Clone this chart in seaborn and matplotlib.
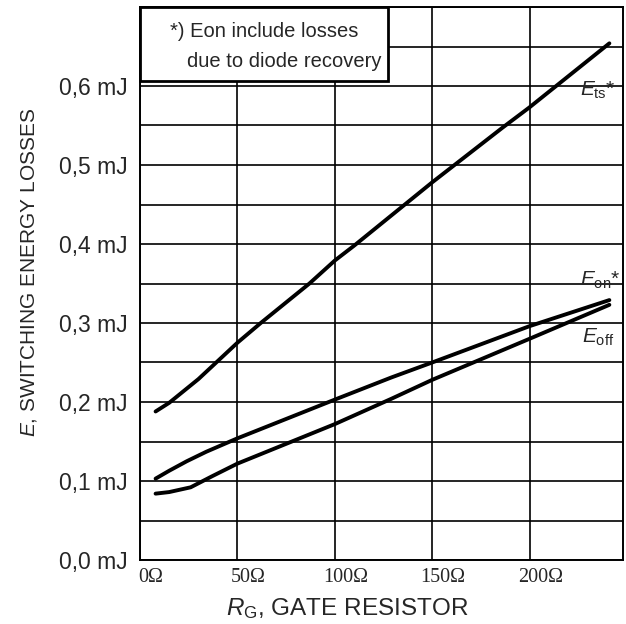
import pandas as pd
import seaborn as sns
import matplotlib.pyplot as plt
import matplotlib.transforms as mtransforms
from matplotlib.patches import Rectangle
from matplotlib.ticker import MultipleLocator

# Valeurs (R_G en ohm, E en mJ)
r_ts = [8, 15, 30, 50, 62, 87, 100, 110, 150, 186, 200, 241]
e_ts = [0.188, 0.199, 0.229, 0.275, 0.300, 0.350, 0.379, 0.398, 0.478, 0.547, 0.573, 0.654]
r_on = [8, 15, 24, 34, 50, 100, 129, 150, 200, 241]
e_on = [0.103, 0.113, 0.125, 0.137, 0.154, 0.203, 0.231, 0.250, 0.296, 0.329]
r_off = [8, 15, 26, 37, 50, 55, 100, 129, 150, 200, 241]
e_off = [0.084, 0.086, 0.092, 0.106, 0.122, 0.127, 0.172, 0.204, 0.228, 0.280, 0.323]

x_ticks = [0, 50, 100, 150, 200]
x_labels = ['0Ω', '50Ω', '100Ω', '150Ω', '200Ω']
y_ticks = [0.0, 0.1, 0.2, 0.3, 0.4, 0.5, 0.6]
y_labels = ['0,0 mJ', '0,1 mJ', '0,2 mJ', '0,3 mJ', '0,4 mJ', '0,5 mJ', '0,6 mJ']

df = pd.concat([
    pd.DataFrame({'R': r_ts, 'E': e_ts, 'curve': 'ts'}),
    pd.DataFrame({'R': r_on, 'E': e_on, 'curve': 'on'}),
    pd.DataFrame({'R': r_off, 'E': e_off, 'curve': 'off'}),
])

sns.set_style('white')
plt.rcParams['font.family'] = ['Liberation Sans', 'DejaVu Sans']
plt.rcParams['mathtext.fontset'] = 'custom'
plt.rcParams['mathtext.rm'] = 'Liberation Sans'
plt.rcParams['mathtext.it'] = 'Liberation Sans:italic'

fig = plt.figure(figsize=(6.26, 6.24), dpi=100)
ax = fig.add_axes([140 / 626, 64 / 624, 483 / 626, 553 / 624])

sns.lineplot(data=df, x='R', y='E', hue='curve', units='curve', estimator=None,
             palette={'ts': 'black', 'on': 'black', 'off': 'black'},
             sort=False, legend=False, linewidth=2.8, ax=ax, zorder=4)

ax.set_xlim(0, 248)
ax.set_ylim(0, 0.7)

# grille
ax.set_xticks(x_ticks)
ax.set_xticklabels(x_labels, family='Liberation Serif', fontsize=14.5)
ax.xaxis.set_minor_locator(MultipleLocator(25))
ax.set_yticks(y_ticks)
ax.set_yticklabels(y_labels, fontsize=16.5)
ax.yaxis.set_minor_locator(MultipleLocator(0.05))
ax.grid(True, which='major', axis='x', color='black', linewidth=1.2)
ax.grid(True, which='both', axis='y', color='black', linewidth=1.2)
ax.set_axisbelow(True)
ax.tick_params(axis='x', which='major', length=0, pad=6)
ax.tick_params(axis='x', which='minor', direction='in', length=4, width=1, color='black')
ax.tick_params(axis='y', which='both', length=0, pad=9)
offset = mtransforms.ScaledTranslation(11 / 100, 0, fig.dpi_scale_trans)
for lab in ax.get_xticklabels():
    lab.set_transform(lab.get_transform() + offset)

for s in ax.spines.values():
    s.set_color('black')
    s.set_linewidth(1.4)

# encadré
ax.add_patch(Rectangle((0, 0.866), 0.513, 0.134, transform=ax.transAxes,
                       facecolor='white', edgecolor='black', linewidth=2, zorder=5, clip_on=False))
ax.text(0.062, 0.946, '*) Eon include losses', transform=ax.transAxes, fontsize=14.5,
        va='baseline', zorder=6)
ax.text(0.097, 0.892, 'due to diode recovery', transform=ax.transAxes, fontsize=14.5,
        va='baseline', zorder=6)

# noms des courbes
ax.text(226, 0.588, r'$E_{\mathrm{ts}}$*', fontsize=15, va='baseline', zorder=6)
ax.text(226, 0.347, r'$E_{\mathrm{on}}$*', fontsize=15, va='baseline', zorder=6)
ax.text(227, 0.275, r'$E_{\mathrm{off}}$', fontsize=15, va='baseline', zorder=6)

ax.set_xlabel(r'$R_{\mathrm{G}}$, GATE RESISTOR', fontsize=17.5)
ax.set_ylabel(r'$E$, SWITCHING ENERGY LOSSES', fontsize=15)
ax.xaxis.set_label_coords(0.43, -0.066)
ax.yaxis.set_label_coords(-0.21, 0.52)

plt.savefig('out.png', dpi=100)
